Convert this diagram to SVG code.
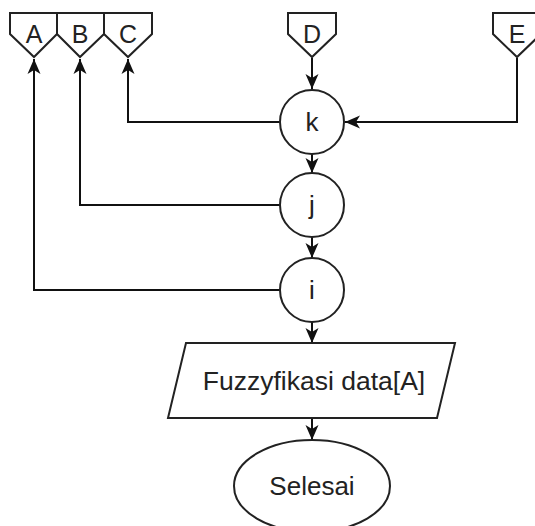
<svg xmlns="http://www.w3.org/2000/svg" width="535" height="526" viewBox="0 0 535 526">
<style>
.s{fill:#fff;stroke:#222;stroke-width:2}
.c{fill:none;stroke:#111;stroke-width:2}
text{font-family:"Liberation Sans",Arial,sans-serif;font-size:25px;fill:#222;text-anchor:middle}
</style>
<defs>
<marker id="ar" markerUnits="userSpaceOnUse" markerWidth="16" markerHeight="16" viewBox="0 0 16 16" refX="15" refY="8" orient="auto">
<path d="M0,1.5 L15,8 L0,14.5 L4,8 z" fill="#111"/>
</marker>
</defs>
<rect width="535" height="526" fill="#fff"/>
<g id="connectors">
<path class="c" d="M312,58 V89" marker-end="url(#ar)"/>
<path class="c" d="M517,58 V122 H345" marker-end="url(#ar)"/>
<path class="c" d="M280,122 H128 V59" marker-end="url(#ar)"/>
<path class="c" d="M312,154 V173" marker-end="url(#ar)"/>
<path class="c" d="M280,205 H80 V59" marker-end="url(#ar)"/>
<path class="c" d="M312,237 V258" marker-end="url(#ar)"/>
<path class="c" d="M280,290 H34 V59" marker-end="url(#ar)"/>
<path class="c" d="M312,322 V343" marker-end="url(#ar)"/>
<path class="c" d="M312,418 V440" marker-end="url(#ar)"/>
</g>
<g id="A"><polygon class="s" points="10,13 57,13 57,34 34,57 10,34"/><text x="34" y="43">A</text></g>
<g id="B"><polygon class="s" points="57,13 104,13 104,34 80,57 57,34"/><text x="80" y="43">B</text></g>
<g id="C"><polygon class="s" points="104,13 152,13 152,34 128,57 104,34"/><text x="128" y="43">C</text></g>
<g id="D"><polygon class="s" points="288,13 336,13 336,34 312,57 288,34"/><text x="312" y="43">D</text></g>
<g id="E"><polygon class="s" points="493,13 541,13 541,34 517,57 493,34"/><text x="517" y="43">E</text></g>
<g id="k"><circle class="s" cx="312" cy="122" r="32"/><text x="312" y="131" style="font-size:26px">k</text></g>
<g id="j"><circle class="s" cx="312" cy="205" r="32"/><text x="312" y="214" style="font-size:26px">j</text></g>
<g id="i"><circle class="s" cx="312" cy="290" r="32"/><text x="312" y="299" style="font-size:26px">i</text></g>
<g id="fuzz"><polygon class="s" points="186,343 455,343 437,418 168,418"/><text x="314" y="390" style="font-size:26.5px">Fuzzyfikasi data[A]</text></g>
<g id="selesai"><ellipse class="s" cx="312" cy="486" rx="78" ry="46"/><text x="312" y="495" style="font-size:26px">Selesai</text></g>
</svg>
